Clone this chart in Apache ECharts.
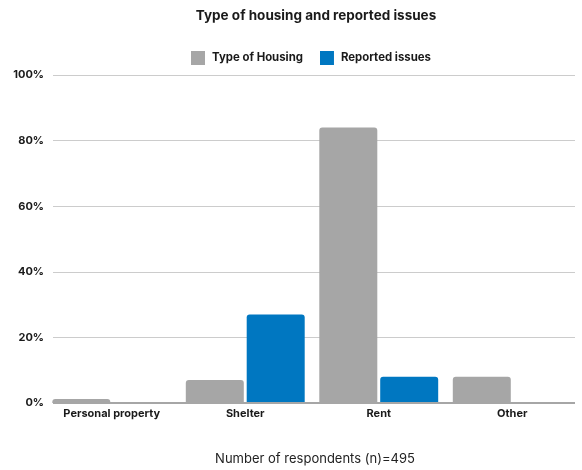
<!DOCTYPE html>
<html>
<head>
<meta charset="utf-8">
<style>
  html, body { margin: 0; padding: 0; background: #ffffff; }
  #chart { width: 582px; height: 470px; }
</style>
<script src="https://cdn.jsdelivr.net/npm/echarts@6/dist/echarts.min.js"></script>
</head>
<body>
<div id="chart"></div>
<script>
// Housing categories and shares of respondents (%)
const categories = ['Personal property', 'Shelter', 'Rent', 'Other'];
const housingType = [1.2, 7, 84, 8];
const reportedIssues = [0, 27, 8, 0];
const yTicks = [0, 20, 40, 60, 80, 100];

const FONT = 'Inter, "Noto Sans", sans-serif';
const GREY = '#a6a6a6';
const BLUE = '#0077c1';

const chart = echarts.init(document.getElementById('chart'), null, { renderer: 'canvas' });

chart.setOption({
  backgroundColor: '#ffffff',
  animation: false,
  title: [
    {
      text: 'Type of housing and reported issues',
      left: 316, top: 9, textAlign: 'center', padding: 0,
      textStyle: { fontFamily: FONT, fontSize: 13.5, fontWeight: 'bold', color: '#1a1a1a' }
    },
    {
      text: 'Number of respondents (n)=495',
      left: 315, top: 453, textAlign: 'center', padding: 0,
      textStyle: { fontFamily: FONT, fontSize: 13, fontWeight: 'normal', color: '#222222' }
    }
  ],
  legend: {
    left: 191, top: 51, padding: 0,
    itemWidth: 14, itemHeight: 14, itemGap: 17,
    icon: 'rect',
    textStyle: { fontFamily: FONT, fontSize: 11.4, fontWeight: 'bold', color: '#1a1a1a', padding: [0, 0, 0, 2] },
    data: ['Type of Housing', 'Reported issues']
  },
  grid: [
    // value grid: y labels, gridlines and baseline
    { left: 53, right: 7, top: 75, bottom: 67 },
    // bar grid: category bands
    { left: 45, right: 3, top: 75, bottom: 67 }
  ],
  xAxis: [
    {
      gridIndex: 0, type: 'value', min: 0, max: 1,
      axisLine: { show: false }, axisTick: { show: false },
      axisLabel: { show: false }, splitLine: { show: false }
    },
    {
      gridIndex: 1, type: 'category', data: categories,
      axisLine: { show: false }, axisTick: { show: false },
      axisLabel: { fontFamily: FONT, fontSize: 11, fontWeight: 'bold', color: '#1a1a1a', margin: 5 }
    }
  ],
  yAxis: [
    {
      gridIndex: 0, type: 'value', min: yTicks[0], max: yTicks[yTicks.length - 1], interval: 20,
      axisLine: { show: false }, axisTick: { show: false },
      axisLabel: { fontFamily: FONT, fontSize: 11, fontWeight: 'bold', color: '#1a1a1a', margin: 9, formatter: '{value}%' },
      splitLine: { lineStyle: { color: '#cccccc', width: 1 } }
    },
    {
      gridIndex: 1, type: 'value', min: yTicks[0], max: yTicks[yTicks.length - 1], interval: 20,
      axisLine: { show: false }, axisTick: { show: false },
      axisLabel: { show: false }, splitLine: { show: false }
    }
  ],
  series: [
    {
      name: 'Type of Housing', type: 'bar', xAxisIndex: 1, yAxisIndex: 1,
      data: housingType, barWidth: 58, barGap: '5%',
      itemStyle: { color: GREY, borderRadius: [3, 3, 0, 0] }
    },
    {
      name: 'Reported issues', type: 'bar', xAxisIndex: 1, yAxisIndex: 1,
      data: reportedIssues, barWidth: 58, barGap: '5%',
      itemStyle: { color: BLUE, borderRadius: [3, 3, 0, 0] }
    },
    {
      // baseline along the 0% level
      name: 'baseline', type: 'line', xAxisIndex: 0, yAxisIndex: 0,
      data: [[0, 0], [1, 0]], symbol: 'none', silent: true, z: 5,
      lineStyle: { color: '#a6a6a6', width: 2 }
    }
  ]
});
</script>
</body>
</html>
